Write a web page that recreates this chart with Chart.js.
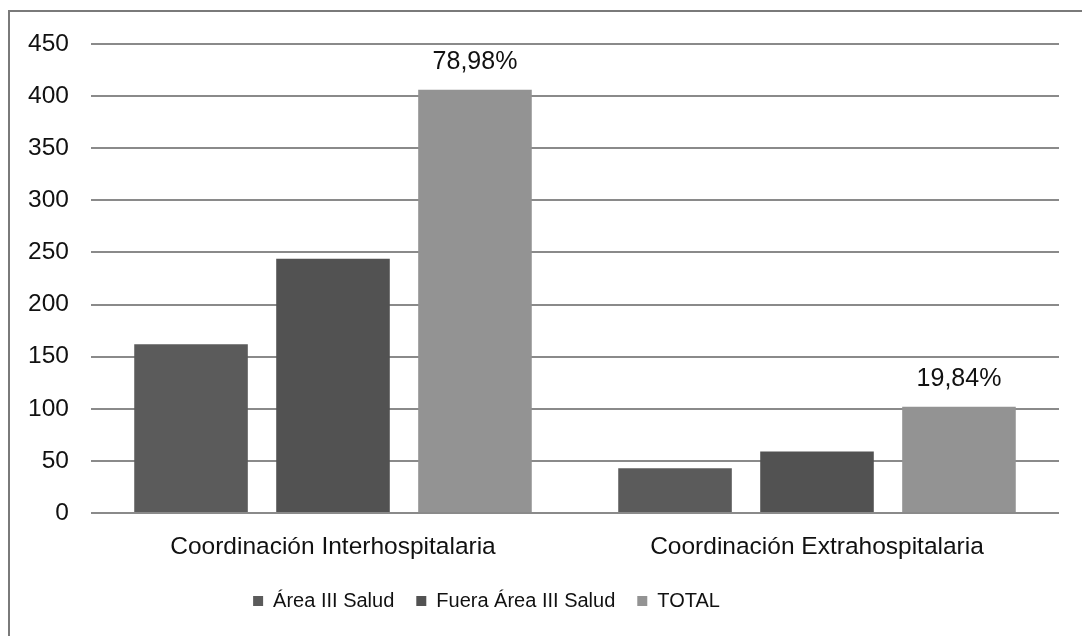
<!DOCTYPE html>
<html>
<head>
<meta charset="utf-8">
<script src="https://cdn.jsdelivr.net/npm/chart.js@4.4.1/dist/chart.umd.min.js"></script>
<style>
  html, body { margin: 0; padding: 0; background: #fff; }
  #wrap { width: 1082px; height: 636px; }
</style>
</head>
<body>
<div id="wrap"><canvas id="chartCoord"></canvas></div>
<script>
// categorias y series
const categorias = ["Coordinación Interhospitalaria", "Coordinación Extrahospitalaria"];
const areaIII = [162, 43];
const fueraAreaIII = [244, 59];
const totales = [406, 102];
const porcentajes = ["78,98%", "19,84%"];

const fuente = "'Liberation Sans', Arial, sans-serif";

// marco gris de la figura (izquierda y arriba)
const marco = {
  id: "marco",
  beforeDraw(chart) {
    const c = chart.ctx;
    c.save();
    c.strokeStyle = "#7a7a7a";
    c.lineWidth = 2;
    c.beginPath();
    c.moveTo(9, chart.height + 5);
    c.lineTo(9, 11);
    c.lineTo(chart.width + 5, 11);
    c.stroke();
    c.restore();
  },
};

// la leyenda va algo a la izquierda del centro
const moverLeyenda = {
  id: "moverLeyenda",
  afterLayout(chart) {
    chart.legend.left -= 43;
    chart.legend.right -= 43;
  },
};

// porcentaje encima de las barras TOTAL
const etiquetas = {
  id: "etiquetas",
  afterDatasetsDraw(chart) {
    const c = chart.ctx;
    const meta = chart.getDatasetMeta(2);
    c.save();
    c.font = "25px " + fuente;
    c.fillStyle = "#111";
    c.textAlign = "center";
    c.textBaseline = "middle";
    meta.data.forEach((bar, i) => {
      c.fillText(porcentajes[i], bar.x, bar.y - 28);
    });
    c.restore();
  },
};

const ctx = document.getElementById("chartCoord");
new Chart(ctx, {
  type: "bar",
  data: {
    labels: categorias,
    datasets: [
      { label: "Área III Salud", data: areaIII, backgroundColor: "#5b5b5b" },
      { label: "Fuera Área III Salud", data: fueraAreaIII, backgroundColor: "#525252" },
      { label: "TOTAL", data: totales, backgroundColor: "#939393" },
    ],
  },
  options: {
    responsive: true,
    maintainAspectRatio: false,
    animation: false,
    categoryPercentage: 0.88,
    barPercentage: 0.8,
    layout: { padding: { top: 44, right: 23, left: 0, bottom: 15 } },
    plugins: {
      tooltip: { enabled: false },
      legend: {
        position: "bottom",
        labels: {
          boxWidth: 10,
          boxHeight: 10,
          padding: 22,
          color: "#111",
          font: { family: fuente, size: 20 },
        },
      },
    },
    scales: {
      x: {
        grid: { display: false },
        border: { display: false },
        ticks: { color: "#111", padding: 12, font: { family: fuente, size: 24.5 } },
        afterFit(scale) { scale.height = 56; },
      },
      y: {
        min: 0,
        max: 450,
        grid: { color: "#8a8a8a", lineWidth: 2, drawTicks: false },
        border: { display: false },
        ticks: { stepSize: 50, color: "#111", padding: 22, font: { family: fuente, size: 24.5 } },
        afterFit(scale) { scale.width = 91; },
      },
    },
  },
  plugins: [marco, moverLeyenda, etiquetas],
});
</script>
</body>
</html>
